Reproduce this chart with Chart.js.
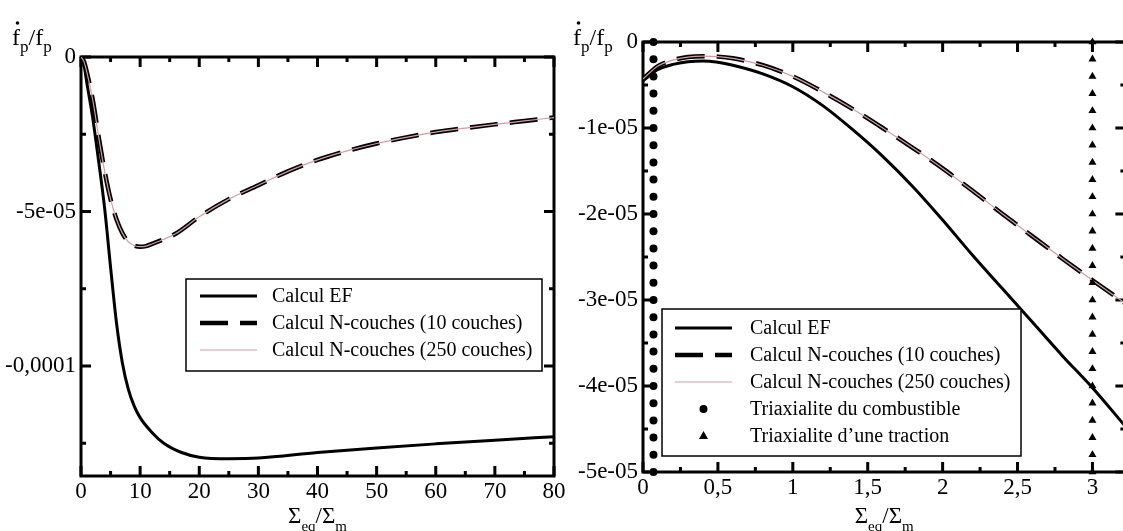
<!DOCTYPE html>
<html>
<head>
<meta charset="utf-8">
<title>fp/fp - Calcul EF vs N-couches</title>
<script src="https://cdn.jsdelivr.net/npm/chart.js@4.4.1/dist/chart.umd.min.js"></script>
<style>
    html, body { margin: 0; padding: 0; background: #fff; overflow: hidden; }
    #wrap { position: relative; width: 1123px; height: 531px; overflow: hidden; }
    .panel { position: absolute; top: 0; height: 531px; }
    #left { left: 0; width: 580px; }
    #right { left: 560px; width: 570px; }
</style>
</head>
<body>
<div id="wrap">
    <div class="panel" id="left"><canvas id="chartLeft" width="580" height="531"></canvas></div>
    <div class="panel" id="right"><canvas id="chartRight" width="570" height="531"></canvas></div>
</div>
<script>
const FONT = "'Liberation Serif', 'Times New Roman', serif";

// ---- Left panel : Sigma_eq/Sigma_m from 0 to 80 ----
const leftEfX = [0, 0.5, 1, 2, 3, 4, 5, 6, 7, 8, 9, 10, 12, 14, 17, 20, 25, 30, 40, 50, 60, 70, 80];
const leftEfY = [0, -0.25e-5, -0.85e-5, -2.0e-5, -3.4e-5, -4.9e-5, -6.8e-5, -8.6e-5, -9.9e-5, -10.75e-5,
    -11.3e-5, -11.67e-5, -12.15e-5, -12.5e-5, -12.8e-5, -12.95e-5, -13.0e-5, -12.98e-5, -12.8e-5,
    -12.65e-5, -12.52e-5, -12.4e-5, -12.29e-5];

const leftNcX = [0, 0.5, 1, 2, 3, 4, 5, 6, 7, 8, 9, 10, 11, 12, 14, 16, 20, 25, 30, 35, 40, 45, 50, 55, 60, 65, 70, 75, 80];
// 10 couches and 250 couches curves lie on top of each other
const leftN10Y = [0, -0.15e-5, -0.5e-5, -1.4e-5, -2.6e-5, -3.7e-5, -4.6e-5, -5.25e-5, -5.7e-5, -5.98e-5,
    -6.1e-5, -6.14e-5, -6.12e-5, -6.05e-5, -5.9e-5, -5.72e-5, -5.17e-5, -4.6e-5, -4.15e-5, -3.7e-5,
    -3.33e-5, -3.04e-5, -2.8e-5, -2.6e-5, -2.43e-5, -2.3e-5, -2.18e-5, -2.07e-5, -1.96e-5];
const leftN250Y = [0, -0.15e-5, -0.5e-5, -1.4e-5, -2.6e-5, -3.7e-5, -4.6e-5, -5.25e-5, -5.7e-5, -5.98e-5,
    -6.1e-5, -6.14e-5, -6.12e-5, -6.05e-5, -5.9e-5, -5.72e-5, -5.17e-5, -4.6e-5, -4.15e-5, -3.7e-5,
    -3.33e-5, -3.04e-5, -2.8e-5, -2.6e-5, -2.43e-5, -2.3e-5, -2.18e-5, -2.07e-5, -1.96e-5];

const leftXTicks = [0, 10, 20, 30, 40, 50, 60, 70, 80];
const leftXLabels = ['0', '10', '20', '30', '40', '50', '60', '70', '80'];
const leftXMinor = [5, 15, 25, 35, 45, 55, 65, 75];
const leftYTicks = [0, -5e-5, -1e-4];
const leftYLabels = ['0', '-5e-05', '-0,0001'];
const leftYMinor = [-2.5e-5, -7.5e-5, -1.25e-4];

// ---- Right panel : Sigma_eq/Sigma_m from 0 to 3.2 ----
const rightX = [0, 0.1, 0.2, 0.3, 0.4, 0.5, 0.6, 0.8, 1.0, 1.2, 1.4, 1.6, 1.8, 2.0, 2.2, 2.4, 2.6, 2.8, 3.0, 3.22];
const rightEfY = [-0.45e-5, -0.32e-5, -0.26e-5, -0.23e-5, -0.22e-5, -0.235e-5, -0.27e-5, -0.37e-5,
    -0.52e-5, -0.74e-5, -1.02e-5, -1.33e-5, -1.68e-5, -2.07e-5, -2.48e-5, -2.87e-5, -3.26e-5,
    -3.65e-5, -4.02e-5, -4.47e-5];
const rightN10Y = [-0.43e-5, -0.28e-5, -0.21e-5, -0.175e-5, -0.165e-5, -0.17e-5, -0.19e-5, -0.27e-5,
    -0.40e-5, -0.58e-5, -0.78e-5, -1.0e-5, -1.23e-5, -1.47e-5, -1.73e-5, -2.0e-5, -2.26e-5,
    -2.52e-5, -2.77e-5, -3.04e-5];
const rightN250Y = [-0.43e-5, -0.28e-5, -0.21e-5, -0.175e-5, -0.165e-5, -0.17e-5, -0.19e-5, -0.27e-5,
    -0.40e-5, -0.58e-5, -0.78e-5, -1.0e-5, -1.23e-5, -1.47e-5, -1.73e-5, -2.0e-5, -2.26e-5,
    -2.52e-5, -2.77e-5, -3.04e-5];

// vertical rows of markers
const combustibleX = 0.07;
const tractionX = 3;
const markerY = [0, -0.2e-5, -0.4e-5, -0.6e-5, -0.8e-5, -1.0e-5, -1.2e-5, -1.4e-5, -1.6e-5, -1.8e-5,
    -2.0e-5, -2.2e-5, -2.4e-5, -2.6e-5, -2.8e-5, -3.0e-5, -3.2e-5, -3.4e-5, -3.6e-5, -3.8e-5,
    -4.0e-5, -4.2e-5, -4.4e-5, -4.6e-5, -4.8e-5, -5.0e-5];

const rightXTicks = [0, 0.5, 1, 1.5, 2, 2.5, 3];
const rightXLabels = ['0', '0,5', '1', '1,5', '2', '2,5', '3'];
const rightXMinor = [0.25, 0.75, 1.25, 1.75, 2.25, 2.75];
const rightYTicks = [0, -1e-5, -2e-5, -3e-5, -4e-5, -5e-5];
const rightYLabels = ['0', '-1e-05', '-2e-05', '-3e-05', '-4e-05', '-5e-05'];
const rightYMinor = [-0.5e-5, -1.5e-5, -2.5e-5, -3.5e-5, -4.5e-5];

const PINK = 'rgb(210, 158, 162)';

function pts(xs, ys) {
    return ys.map((y, i) => ({ x: xs[i], y: y }));
}

// frame with inward ticks on all four sides
const framePlugin = {
    id: 'frame',
    beforeDatasetsDraw(chart, args, opts) {
        const { ctx, chartArea: a, scales } = chart;
        const sx = scales.x, sy = scales.y;
        ctx.save();
        ctx.strokeStyle = '#000';
        ctx.lineWidth = 3;
        ctx.strokeRect(a.left, a.top, a.right - a.left, a.bottom - a.top);
        ctx.lineCap = 'butt';
        const drawX = (vals, len) => vals.forEach(v => {
            const px = sx.getPixelForValue(v);
            ctx.beginPath();
            ctx.moveTo(px, a.bottom); ctx.lineTo(px, a.bottom - len);
            ctx.moveTo(px, a.top); ctx.lineTo(px, a.top + len);
            ctx.stroke();
        });
        const drawY = (vals, len) => vals.forEach(v => {
            const py = sy.getPixelForValue(v);
            ctx.beginPath();
            ctx.moveTo(a.left, py); ctx.lineTo(a.left + len, py);
            ctx.moveTo(a.right, py); ctx.lineTo(a.right - len, py);
            ctx.stroke();
        });
        drawX(opts.xMajor, 10);
        drawX(opts.xMinor, 5);
        drawY(opts.yMajor, 10);
        drawY(opts.yMinor, 5);
        ctx.restore();
    }
};

// boxed legend inside the plot
const boxLegendPlugin = {
    id: 'boxLegend',
    afterDatasetsDraw(chart, args, opts) {
        const ctx = chart.ctx;
        const [l, t, r, b] = opts.box;
        ctx.save();
        ctx.fillStyle = '#fff';
        ctx.fillRect(l, t, r - l, b - t);
        ctx.strokeStyle = '#000';
        ctx.lineWidth = 1.5;
        ctx.strokeRect(l, t, r - l, b - t);
        ctx.font = '20px ' + FONT;
        ctx.textBaseline = 'middle';
        ctx.textAlign = 'left';
        chart.data.datasets.forEach((ds, i) => {
            const y = opts.rows[i];
            if (ds.showLine === false) {
                const cx = (opts.sample[0] + opts.sample[1]) / 2;
                ctx.fillStyle = '#000';
                ctx.beginPath();
                if (ds.pointStyle === 'triangle') {
                    ctx.moveTo(cx, y - 5);
                    ctx.lineTo(cx + 4.5, y + 3);
                    ctx.lineTo(cx - 4.5, y + 3);
                    ctx.closePath();
                } else {
                    ctx.arc(cx, y, 4, 0, Math.PI * 2);
                }
                ctx.fill();
            } else {
                ctx.strokeStyle = ds.borderColor;
                ctx.lineWidth = ds.borderWidth;
                ctx.setLineDash(ds.borderDash || []);
                ctx.beginPath();
                ctx.moveTo(opts.sample[0], y);
                ctx.lineTo(opts.sample[1], y);
                ctx.stroke();
                ctx.setLineDash([]);
            }
            ctx.fillStyle = '#000';
            ctx.fillText(ds.label, opts.textX, y + 1);
        });
        ctx.restore();
    }
};

function drawRich(ctx, parts, x, y, align) {
    let w = 0;
    parts.forEach(p => {
        ctx.font = p[1] + 'px ' + FONT;
        w += ctx.measureText(p[0]).width;
    });
    let cx = align === 'center' ? x - w / 2 : x;
    const pos = [];
    parts.forEach(p => {
        ctx.font = p[1] + 'px ' + FONT;
        ctx.fillText(p[0], cx, y + p[2]);
        pos.push(cx);
        cx += ctx.measureText(p[0]).width;
    });
    return pos;
}

// axis titles with subscripts
const titlesPlugin = {
    id: 'titles',
    afterDraw(chart, args, opts) {
        const { ctx, chartArea: a } = chart;
        ctx.save();
        ctx.fillStyle = '#000';
        ctx.textBaseline = 'alphabetic';
        ctx.textAlign = 'left';
        const pos = drawRich(ctx, [['f', 24, 0], ['p', 17, 7], ['/', 24, 0], ['f', 24, 0], ['p', 17, 7]],
            opts.yTitle[0], opts.yTitle[1], 'left');
        // dot over the first f
        ctx.beginPath();
        ctx.arc(pos[0] + 5.5, opts.yTitle[1] - 22, 1.8, 0, Math.PI * 2);
        ctx.fill();
        drawRich(ctx, [['\u03A3', 23, 0], ['eq', 15, 8], ['/', 23, 0], ['\u03A3', 23, 0], ['m', 15, 8]],
            (a.left + a.right) / 2, opts.xTitleY, 'center');
        ctx.restore();
    }
};

function makeScales(cfg) {
    return {
        x: {
            type: 'linear',
            min: cfg.xMin,
            max: cfg.xMax,
            grid: { display: false, drawTicks: false },
            border: { display: false },
            afterBuildTicks: s => { s.ticks = cfg.xTicks.map(v => ({ value: v })); },
            afterFit: s => { s.height = cfg.xHeight; s.paddingLeft = 0; s.paddingRight = 0; },
            ticks: {
                autoSkip: false,
                maxRotation: 0,
                padding: 2,
                color: '#000',
                font: { family: FONT, size: 23 },
                callback: (v, i) => cfg.xLabels[i]
            }
        },
        y: {
            type: 'linear',
            min: cfg.yMin,
            max: 0,
            grid: { display: false, drawTicks: false },
            border: { display: false },
            afterBuildTicks: s => { s.ticks = cfg.yTicks.map(v => ({ value: v })); },
            afterFit: s => { s.width = cfg.yWidth; s.paddingTop = 0; s.paddingBottom = 0; },
            ticks: {
                autoSkip: false,
                padding: 5,
                color: '#000',
                font: { family: FONT, size: 23 },
                callback: (v, i) => cfg.yLabels[i]
            }
        }
    };
}

function lineSet(label, xs, ys, style) {
    return Object.assign({
        label: label,
        data: pts(xs, ys),
        pointRadius: 0,
        fill: false,
        cubicInterpolationMode: 'monotone'
    }, style);
}

const solidStyle = { borderColor: '#000', borderWidth: 3, order: 3 };
const dashStyle = { borderColor: '#000', borderWidth: 4.5, borderDash: [28, 12], order: 2 };
const pinkStyle = { borderColor: PINK, borderWidth: 1.2, order: 1 };

Chart.defaults.font.family = FONT;
Chart.defaults.color = '#000';

new Chart(document.getElementById('chartLeft'), {
    type: 'line',
    data: {
        datasets: [
            lineSet('Calcul EF', leftEfX, leftEfY, solidStyle),
            lineSet('Calcul N-couches (10 couches)', leftNcX, leftN10Y, dashStyle),
            lineSet('Calcul N-couches (250 couches)', leftNcX, leftN250Y, pinkStyle)
        ]
    },
    options: {
        responsive: false,
        devicePixelRatio: 1,
        animation: false,
        events: [],
        layout: { padding: { top: 57, right: 26, left: 0, bottom: 0 } },
        scales: makeScales({
            xMin: 0, xMax: 80, xTicks: leftXTicks, xLabels: leftXLabels, xHeight: 55,
            yMin: -1.356e-4, yTicks: leftYTicks, yLabels: leftYLabels, yWidth: 81
        }),
        plugins: {
            legend: { display: false },
            tooltip: { enabled: false },
            frame: { xMajor: leftXTicks, xMinor: leftXMinor, yMajor: leftYTicks, yMinor: leftYMinor },
            boxLegend: { box: [186, 279, 542, 371], rows: [296, 323, 350], sample: [200, 257], textX: 272 },
            titles: { yTitle: [12, 45], xTitleY: 523 }
        }
    },
    plugins: [framePlugin, boxLegendPlugin, titlesPlugin]
});

new Chart(document.getElementById('chartRight'), {
    type: 'line',
    data: {
        datasets: [
            lineSet('Calcul EF', rightX, rightEfY, solidStyle),
            lineSet('Calcul N-couches (10 couches)', rightX, rightN10Y, dashStyle),
            lineSet('Calcul N-couches (250 couches)', rightX, rightN250Y, pinkStyle),
            {
                label: 'Triaxialite du combustible',
                data: markerY.map(y => ({ x: combustibleX, y: y })),
                showLine: false,
                pointStyle: 'circle',
                pointRadius: 4,
                pointBorderWidth: 0,
                pointBackgroundColor: '#000',
                borderColor: '#000',
                clip: false,
                order: 0
            },
            {
                label: 'Triaxialite d\u2019une traction',
                data: markerY.map(y => ({ x: tractionX, y: y })),
                showLine: false,
                pointStyle: 'triangle',
                pointRadius: 4.6,
                pointBorderWidth: 0,
                pointBackgroundColor: '#000',
                borderColor: '#000',
                clip: false,
                order: 0
            }
        ]
    },
    options: {
        responsive: false,
        devicePixelRatio: 1,
        animation: false,
        events: [],
        layout: { padding: { top: 42, right: 4, left: 0, bottom: 0 } },
        scales: makeScales({
            xMin: 0, xMax: 3.22, xTicks: rightXTicks, xLabels: rightXLabels, xHeight: 59,
            yMin: -5e-5, yTicks: rightYTicks, yLabels: rightYLabels, yWidth: 83
        }),
        plugins: {
            legend: { display: false },
            tooltip: { enabled: false },
            frame: { xMajor: rightXTicks, xMinor: rightXMinor, yMajor: rightYTicks, yMinor: rightYMinor },
            boxLegend: { box: [102, 309, 461, 456], rows: [328, 355, 382, 409, 436], sample: [115, 172], textX: 190 },
            titles: { yTitle: [13, 45], xTitleY: 523 }
        }
    },
    plugins: [framePlugin, boxLegendPlugin, titlesPlugin]
});
</script>
</body>
</html>
